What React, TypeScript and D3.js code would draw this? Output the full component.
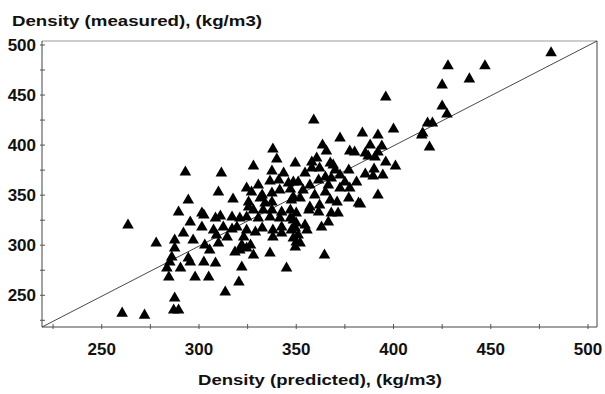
import React from "react";
import * as d3 from "d3";

// predicted density (x) and measured density (y), kg/m3
const predicted = [
  481, 428, 447, 439, 425, 425, 427.5, 417.5, 420, 415, 418.5, 396, 384, 392, 400, 394,
  385.5, 387, 390.5, 392, 414.5, 401, 385.5, 390, 389.5, 394.5, 392, 383, 359, 372.5,
  363.5, 365.5, 377.5, 380, 349.5, 358, 360.5, 367.5, 369, 377, 354.5, 362, 365, 368,
  372.5, 381, 377.5, 372.5, 348.5, 351, 353.5, 359.5, 365, 348.5, 352, 367.5, 371, 377,
  382, 357, 362, 356.5, 361.5, 368, 371.5, 350, 348.5, 350, 354.5, 349.5, 355.5, 363,
  366.5, 351, 350, 352, 349.5, 364.5, 338, 340, 328, 311.5, 337.5, 343.5, 336.5, 341,
  346, 310, 324.5, 327, 332.5, 337.5, 341.5, 347, 317.5, 325.5, 331.5, 337.5, 347.5,
  325.5, 328, 333, 337.5, 342.5, 347, 302.5, 308.5, 311, 317, 321, 324.5, 330.5, 336.5,
  341.5, 347, 301.5, 307.5, 312.5, 317, 319.5, 324.5, 329, 332.5, 338, 342.5, 347.5,
  309, 314.5, 323, 338, 342.5, 348.5, 303, 310, 322, 326.5, 305.5, 318.5, 321, 324.5,
  328, 336.5, 302.5, 308.5, 322, 345, 305, 320.5, 313.5, 294.5, 289.5, 301.5, 263.5,
  295.5, 292, 297, 278, 287.5, 287.5, 286, 285, 294.5, 295.5, 283.5, 290.5, 284.5, 298,
  287.5, 287, 289.5, 260.5, 272, 293, 358, 361.5, 366.5, 370, 375, 357, 330.5, 334, 388,
  396
];

const measured = [
  492, 479, 479, 466, 460, 439, 431, 422, 422, 412, 398, 448, 412, 410, 416, 399,
  392, 389, 388, 393, 410, 379, 371, 376, 369, 370, 350, 341, 425, 407,
  400, 394, 394, 393, 382, 383, 387, 382, 380, 375, 372, 377, 368, 367,
  370, 363, 357, 357, 363, 363, 355, 350, 353, 348, 347, 345, 343, 347,
  342, 338, 340, 335, 333, 332, 332, 332, 325, 322, 320, 317, 315, 318,
  323, 310, 303, 302, 298, 290, 396, 386, 379, 372, 374, 372, 364, 365,
  362, 353, 357, 353, 350, 352, 355, 356, 346, 343, 347, 343, 345,
  338, 335, 335, 335, 333, 335, 330, 327, 329, 328, 327, 328, 327, 328,
  327, 327, 318, 315, 318, 316, 318, 315, 313, 317, 315, 318, 315,
  310, 308, 308, 308, 312, 307, 300, 302, 300, 300, 295, 293, 295, 297,
  290, 292, 283, 282, 278, 277, 268, 263, 253, 345, 333, 332, 320,
  323, 312, 305, 302, 305, 297, 288, 283, 287, 283, 277, 277, 268, 268,
  247, 235, 235, 232, 230, 373, 377, 365, 360, 375, 363, 360, 360, 342, 400,
  383
];

const xTicks = [250, 300, 350, 400, 450, 500];
const yTicks = [250, 300, 350, 400, 450, 500];
const xMinor = [225, 275, 325, 375, 425, 475];
const yMinor = [225, 275, 325, 375, 425, 475];

const W = 605;
const H = 394;
const left = 42;
const right = 597;
const top = 41;
const bottom = 327;

const font = "'Liberation Sans', Arial, sans-serif";

export default function App() {
  const x = d3.scaleLinear().domain([219.3, 504.6]).range([left, right]);
  const y = d3.scaleLinear().domain([218.3, 504]).range([bottom, top]);
  const tri = d3.symbol().type(d3.symbolTriangle).size(58)();

  return (
    <div style={{ position: "absolute", left: 0, top: 0 }}>
      <svg width={W} height={H} style={{ display: "block", background: "#fff" }}>
        <text
          x={12}
          y={26}
          fontFamily={font}
          fontWeight="bold"
          fontSize={15.5}
          fill="#111"
          textLength={250}
          lengthAdjust="spacingAndGlyphs"
        >
          Density (measured), (kg/m3)
        </text>

        {/* frame */}
        <line x1={left} x2={right} y1={top} y2={top} stroke="#999" />
        <line x1={right} x2={right} y1={top} y2={bottom} stroke="#444" />
        <line x1={left} x2={left} y1={top} y2={bottom} stroke="#444" />
        <line x1={left} x2={right} y1={bottom} y2={bottom} stroke="#444" />

        {/* y = x reference line */}
        <line
          x1={x(219.3)}
          y1={y(218.3)}
          x2={x(504.6)}
          y2={y(504)}
          stroke="#333"
          strokeWidth={0.9}
        />

        {xTicks.concat(xMinor).map(t => (
          <line key={"xt" + t} x1={x(t)} x2={x(t)} y1={bottom - 3} y2={bottom + 2} stroke="#555" />
        ))}
        {yTicks.concat(yMinor).map(t => (
          <line key={"yt" + t} x1={left - 2} x2={left + 3} y1={y(t)} y2={y(t)} stroke="#555" />
        ))}

        {xTicks.map(t => (
          <text
            key={"xl" + t}
            x={x(t)}
            y={355}
            textAnchor="middle"
            fontFamily={font}
            fontWeight="bold"
            fontSize={17}
            fill="#111"
          >
            {t}
          </text>
        ))}
        {yTicks.map(t => (
          <text
            key={"yl" + t}
            x={36}
            y={y(t) + 6}
            textAnchor="end"
            fontFamily={font}
            fontWeight="bold"
            fontSize={17}
            fill="#111"
          >
            {t}
          </text>
        ))}

        <g fill="#000">
          {predicted.map((p, i) => (
            <path key={i} d={tri} transform={`translate(${x(p)},${y(measured[i])})`} />
          ))}
        </g>

        <text
          x={198}
          y={385}
          fontFamily={font}
          fontWeight="bold"
          fontSize={15.5}
          fill="#111"
          textLength={244}
          lengthAdjust="spacingAndGlyphs"
        >
          Density (predicted), (kg/m3)
        </text>
      </svg>
    </div>
  );
}
